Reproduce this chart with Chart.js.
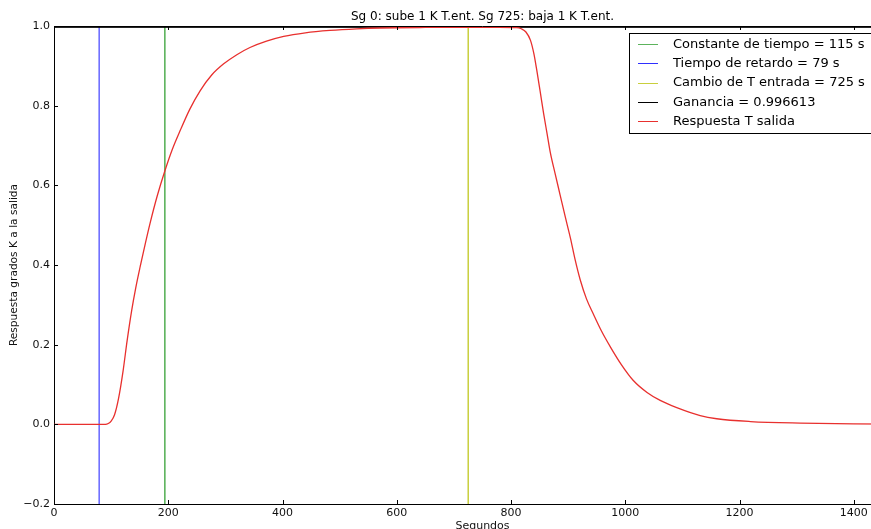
<!DOCTYPE html>
<html lang="es">
<head>
<meta charset="UTF-8">
<title>Respuesta T salida</title>
<script src="https://cdn.jsdelivr.net/npm/chart.js@4.4.1/dist/chart.umd.min.js"></script>
<style>
  html, body { margin: 0; padding: 0; background: #fff; overflow: hidden; }
  #wrap { width: 912px; height: 529px; }
</style>
</head>
<body>
<div id="wrap"><canvas id="chart" width="912" height="529"></canvas></div>
<script>
// segundos y respuesta
const tiempos = [0, 80, 90, 95, 100, 106, 113, 121, 128, 136, 143, 151, 160, 168, 181,
  194, 207, 221, 238, 256, 276, 297, 320, 343, 372, 402, 440, 483, 530, 571,
  650, 725, 780, 810, 818, 826, 834, 840, 845, 851, 857, 863, 869, 877, 886,
  895, 904, 912, 921, 932, 944, 958, 974, 993, 1014, 1038, 1061, 1090, 1131, 1160,
  1219, 1306, 1400, 1500];
const respuesta = [0, 0, 0, 0.002, 0.008, 0.024, 0.065, 0.135, 0.21, 0.286, 0.342, 0.397, 0.455, 0.504, 0.575,
  0.636, 0.69, 0.738, 0.792, 0.838, 0.877, 0.905, 0.928, 0.946, 0.962, 0.974, 0.983, 0.989, 0.993, 0.995,
  0.9963, 0.9966, 0.9966, 0.996, 0.993, 0.985, 0.964, 0.93, 0.889, 0.835, 0.78, 0.73, 0.68, 0.63, 0.575,
  0.52, 0.467, 0.414, 0.363, 0.315, 0.277, 0.235, 0.194, 0.15, 0.11, 0.08, 0.06, 0.042, 0.022, 0.014,
  0.007, 0.003, 0.001, 0.0005];

const tiempoRetardo = 79;
const constanteTiempo = 115;
const cambioEntrada = 725;
const ganancia = 0.996613;

const xTicks = [0, 200, 400, 600, 800, 1000, 1200, 1400];
const yTicks = [-0.2, 0.0, 0.2, 0.4, 0.6, 0.8, 1.0];
const xMin = 0, xMax = 1500, yMin = -0.2, yMax = 1.0;

const titulo = 'Sg 0: sube 1 K T.ent. Sg 725: baja 1 K T.ent.';

const vertical = x => [{ x: x, y: yMin }, { x: x, y: yMax }];

const datasets = [
  { label: 'Respuesta T salida', data: tiempos.map((t, i) => ({ x: t, y: respuesta[i] })),
    borderColor: '#e8302e', borderWidth: 1.3, cubicInterpolationMode: 'monotone' },
  { label: 'Ganancia = ' + ganancia, data: [{ x: xMin, y: ganancia }, { x: xMax, y: ganancia }],
    borderColor: '#000000', borderWidth: 1 },
  { label: 'Cambio de T entrada = ' + cambioEntrada + ' s', data: vertical(cambioEntrada),
    borderColor: '#c9cf3c', borderWidth: 1.5 },
  { label: 'Tiempo de retardo = ' + tiempoRetardo + ' s', data: vertical(tiempoRetardo),
    borderColor: '#2f2fff', borderWidth: 1.1 },
  { label: 'Constante de tiempo = ' + constanteTiempo + ' s', data: vertical(tiempoRetardo + constanteTiempo),
    borderColor: '#5cb35c', borderWidth: 1.6 }
];
datasets.forEach(d => { d.pointRadius = 0; d.fill = false; });

// orden de la leyenda como en el original
const ordenLeyenda = [4, 3, 2, 1, 0];
const fuente = 'DejaVu Sans, sans-serif';

const adornos = {
  id: 'adornos',
  afterDatasetsDraw(chart) {
    const ctx = chart.ctx;
    const a = chart.chartArea;
    const sx = chart.scales.x, sy = chart.scales.y;
    ctx.save();
    // eje superior
    ctx.strokeStyle = '#000';
    ctx.lineWidth = 1;
    ctx.beginPath();
    ctx.moveTo(a.left, Math.round(a.top) + 0.5);
    ctx.lineTo(a.right, Math.round(a.top) + 0.5);
    ctx.stroke();
    // marcas hacia dentro
    ctx.beginPath();
    xTicks.forEach(v => {
      const px = Math.round(sx.getPixelForValue(v)) + 0.5;
      ctx.moveTo(px, a.bottom); ctx.lineTo(px, a.bottom - 4);
      ctx.moveTo(px, a.top); ctx.lineTo(px, a.top + 4);
    });
    yTicks.forEach(v => {
      const py = Math.round(sy.getPixelForValue(v)) + 0.5;
      ctx.moveTo(a.left, py); ctx.lineTo(a.left + 4, py);
    });
    ctx.stroke();

    // titulo
    ctx.fillStyle = '#000';
    ctx.font = '12px ' + fuente;
    ctx.textAlign = 'center';
    ctx.textBaseline = 'alphabetic';
    ctx.fillText(titulo, (a.left + a.right) / 2, 20);

    // leyenda
    const lx = 629.5, ly = 33.5, lw = 290, lh = 100;
    ctx.fillStyle = '#fff';
    ctx.fillRect(lx, ly, lw, lh);
    ctx.strokeStyle = '#000';
    ctx.strokeRect(lx, ly, lw, lh);
    ctx.font = '13px ' + fuente;
    ctx.textAlign = 'left';
    ctx.textBaseline = 'middle';
    ordenLeyenda.forEach((idx, i) => {
      const d = chart.data.datasets[idx];
      const y = 44 + i * 19.3;
      ctx.strokeStyle = d.borderColor;
      ctx.lineWidth = 1;
      ctx.beginPath();
      ctx.moveTo(638, Math.round(y) + 0.5);
      ctx.lineTo(658, Math.round(y) + 0.5);
      ctx.stroke();
      ctx.fillStyle = '#000';
      ctx.fillText(d.label, 673, y + 0.5);
    });
    ctx.restore();
  }
};

new Chart(document.getElementById('chart'), {
  type: 'line',
  data: { datasets: datasets },
  options: {
    responsive: false,
    animation: false,
    layout: { padding: { top: 26, right: 1, left: 0, bottom: 0 } },
    plugins: { legend: { display: false }, title: { display: false }, tooltip: { enabled: false } },
    scales: {
      x: {
        type: 'linear', min: xMin, max: xMax,
        afterBuildTicks: s => { s.ticks = xTicks.map(v => ({ value: v })); },
        afterFit: s => { s.height = 25; },
        grid: { display: false, drawTicks: false },
        border: { display: true, color: '#000', width: 1 },
        ticks: { color: '#111', padding: 3, maxRotation: 0, font: { family: fuente, size: 11 },
          callback: v => String(v) },
        title: { display: true, text: 'Segundos', color: '#111', padding: { top: -4, bottom: -4 },
          font: { family: fuente, size: 11 } }
      },
      y: {
        min: yMin, max: yMax,
        afterBuildTicks: s => { s.ticks = yTicks.map(v => ({ value: v })); },
        afterFit: s => { s.width = 54; },
        grid: { display: false, drawTicks: false },
        border: { display: true, color: '#000', width: 1 },
        ticks: { color: '#111', padding: 4, font: { family: fuente, size: 11 },
          callback: v => v.toFixed(1).replace('-', '\u2212') },
        title: { display: true, text: 'Respuesta grados K a la salida', color: '#111',
          padding: { top: 8, bottom: 0 }, font: { family: fuente, size: 10.6 } }
      }
    }
  },
  plugins: [adornos]
});
</script>
</body>
</html>
